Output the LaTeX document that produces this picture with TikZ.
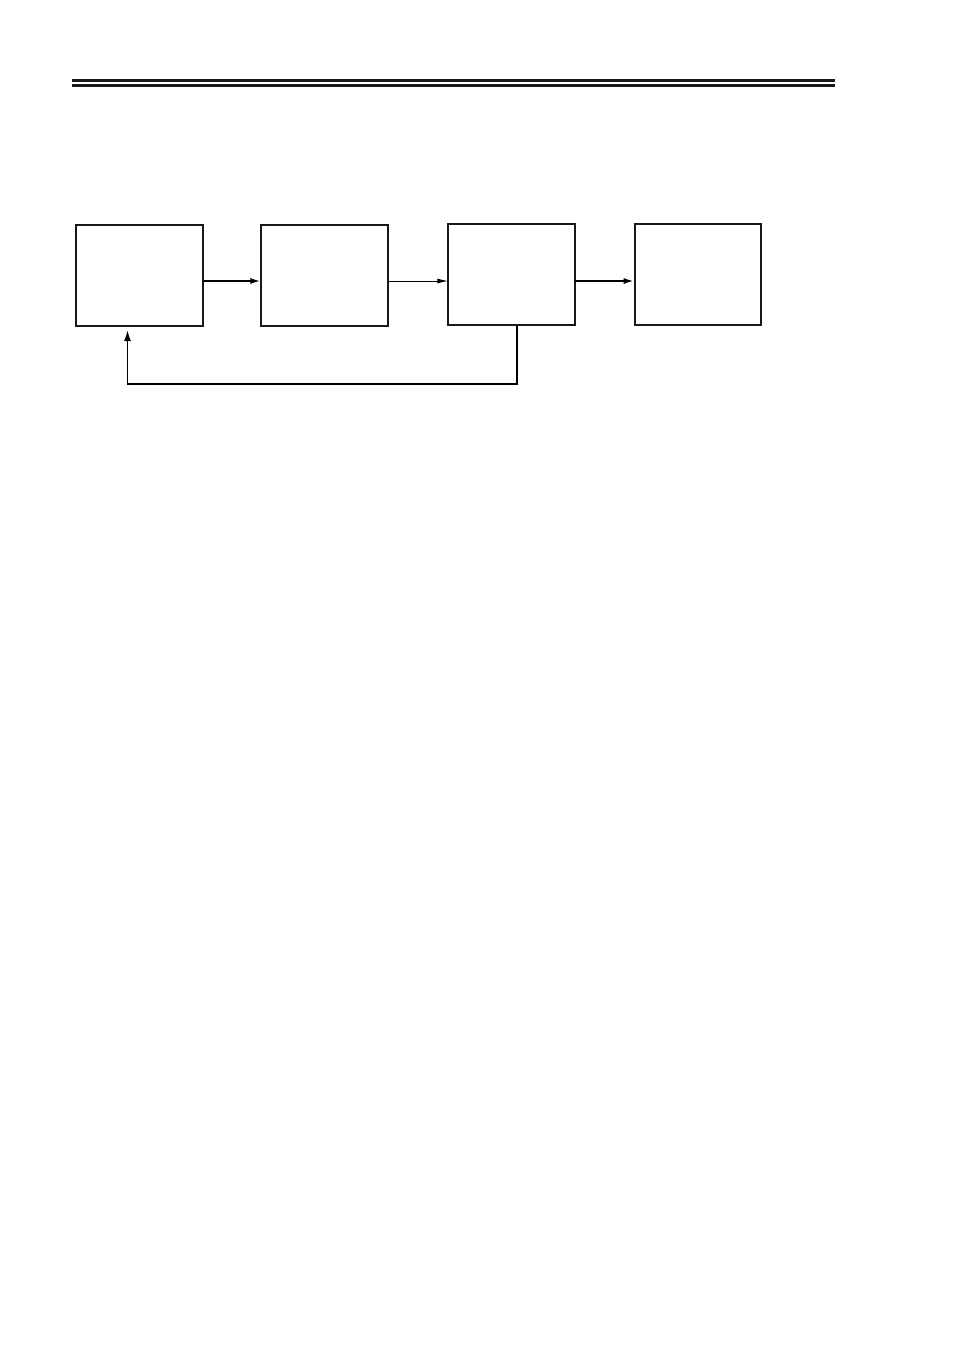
\documentclass[tikz,border=0pt]{standalone}
\usetikzlibrary{arrows.meta}
\begin{document}
\begin{tikzpicture}[x=1pt,y=-1pt,
  blk/.style={draw=black!90,line width=1.7pt,minimum width=126.5pt,minimum height=101pt,inner sep=0pt,outer sep=0pt,anchor=north west},
  thickarr/.style={line width=2.3pt,-{Latex[length=11pt,width=6pt]}},
  thinarr/.style={line width=1pt,-{Latex[length=11pt,width=5pt]}},
  fbarr/.style={line width=1.7pt,-{Latex[length=11pt,width=7pt]}},
  rule/.style={line width=3pt,black!90}]
\useasboundingbox (0,0) rectangle (954,1349);
\draw[rule] (72,80.5) -- (835,80.5);
\draw[rule] (72,85.5) -- (835,85.5);
\node[blk] (b1) at (76.3,224.7) {};
\node[blk] (b2) at (261.3,224.7) {};
\node[blk] (b3) at (448.3,224) {};
\node[blk] (b4) at (634.7,224) {};
\coordinate (fbtip) at (127.5,330);
\draw[thickarr] (b1.east |- 0,281) -- (b2.west |- 0,281);
\draw[thinarr] (b2.east |- 0,281) -- (b3.west |- 0,281);
\draw[thickarr] (b3.east |- 0,281) -- (b4.west |- 0,281);
\draw[fbarr] (517,0 |- b3.south) -- (517,384) -- (127.5,384) -- (fbtip);
\end{tikzpicture}
\end{document}
